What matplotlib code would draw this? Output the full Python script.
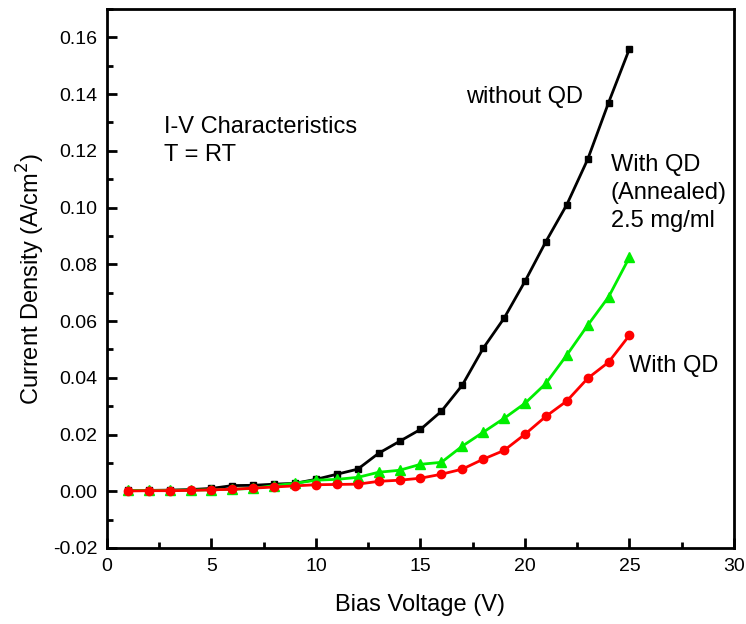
import matplotlib
matplotlib.use("Agg")
import matplotlib.pyplot as plt
from matplotlib.ticker import MultipleLocator

plt.rcParams['font.family'] = ['Liberation Sans', 'DejaVu Sans']

voltage = list(range(1, 26))

without_qd = [0.0003, 0.0003, 0.0004, 0.0006, 0.0010, 0.0020, 0.0021, 0.0025, 0.0028, 0.0042,
              0.0060, 0.0078, 0.0134, 0.0176, 0.0218, 0.0282, 0.0374, 0.0504, 0.0610, 0.0740,
              0.0880, 0.1010, 0.1170, 0.1370, 0.1560]
qd_annealed = [0.0003, 0.0003, 0.0003, 0.0004, 0.0005, 0.0007, 0.0010, 0.0020, 0.0028, 0.0039,
               0.0042, 0.0049, 0.0067, 0.0074, 0.0095, 0.0102, 0.0159, 0.0208, 0.0257, 0.0310,
               0.0380, 0.0480, 0.0585, 0.0685, 0.0825]
with_qd = [0.0001, 0.0002, 0.0002, 0.0003, 0.0005, 0.0007, 0.0011, 0.0015, 0.0019, 0.0023,
           0.0024, 0.0025, 0.0035, 0.0039, 0.0046, 0.0060, 0.0078, 0.0113, 0.0144, 0.0201,
           0.0264, 0.0318, 0.0398, 0.0455, 0.0550]

fig = plt.figure(figsize=(7.46, 6.24), dpi=100)
ax = fig.add_axes([0.1434, 0.1218, 0.8405, 0.8638])

ax.plot(voltage, without_qd, color='black', lw=2, marker='s', ms=5)
ax.plot(voltage, qd_annealed, color='#00ee00', lw=2, marker='^', ms=7)
ax.plot(voltage, with_qd, color='#ff0000', lw=2, marker='o', ms=6)

ax.set_xlim(0, 30)
ax.set_ylim(-0.02, 0.17)
ax.xaxis.set_major_locator(MultipleLocator(5))
ax.xaxis.set_minor_locator(MultipleLocator(2.5))
ax.set_yticks([-0.02, 0.0, 0.02, 0.04, 0.06, 0.08, 0.10, 0.12, 0.14, 0.16])
ax.yaxis.set_minor_locator(MultipleLocator(0.01))
ax.yaxis.set_major_formatter(plt.FuncFormatter(lambda v, p: f"{v:.2f}"))
ax.tick_params(which='both', direction='in', top=False, right=False, labelsize=14, width=2)
ax.tick_params(which='major', length=7, pad=7)
ax.tick_params(which='minor', length=4)
for s in ax.spines.values():
    s.set_linewidth(2)

ax.set_xlabel('Bias Voltage (V)', fontsize=17, labelpad=14)
ax.set_ylabel('Current Density (A/cm$^2$)', fontsize=17, labelpad=4)

ax.text(17.2, 0.139, 'without QD', fontsize=17, va='center')
ax.text(2.75, 0.1235, 'I-V Characteristics\nT = RT', fontsize=17, va='center', linespacing=1.35)
ax.text(24.1, 0.105, 'With QD\n(Annealed)\n2.5 mg/ml', fontsize=17, va='center', linespacing=1.35)
ax.text(25.0, 0.044, 'With QD', fontsize=17, va='center')

fig.savefig('out.png', dpi=100)
